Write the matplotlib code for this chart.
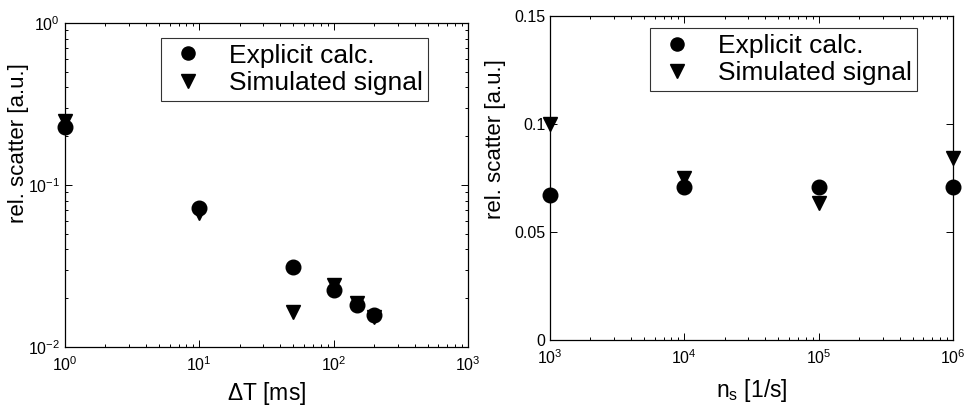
import numpy as np
import matplotlib
matplotlib.use("Agg")
import matplotlib.pyplot as plt
from matplotlib.ticker import FixedLocator, FixedFormatter, LogLocator

# left panel: scatter vs. time window
dt_ms = [1, 10, 50, 100, 150, 200]
dt_explicit = [0.228, 0.072, 0.0312, 0.0225, 0.0182, 0.0158]
dt_simulated = [0.25, 0.067, 0.0164, 0.0241, 0.0187, 0.0153]

# right panel: scatter vs. sampling rate
ns = [1e3, 1e4, 1e5, 1e6]
ns_explicit = [0.0671, 0.0707, 0.0710, 0.0710]
ns_simulated = [0.1000, 0.0748, 0.0633, 0.0841]

right_yticks = [0, 0.05, 0.1, 0.15]
right_yticklabels = ['0', '0.05', '0.1', '0.15']

plt.rcParams['font.family'] = ['Liberation Sans', 'DejaVu Sans']
plt.rcParams['mathtext.fontset'] = 'custom'
plt.rcParams['mathtext.rm'] = 'Liberation Sans'
plt.rcParams['mathtext.it'] = 'Liberation Sans'
plt.rcParams['axes.linewidth'] = 0.9

W, H = 967, 409
fig = plt.figure(figsize=(W / 100, H / 100), dpi=100)
ax1 = fig.add_axes([65 / W, (H - 347) / H, 403 / W, 324 / H])
ax2 = fig.add_axes([550 / W, (H - 340) / H, 403 / W, 324 / H])


def style(ax):
    ax.tick_params(which='both', direction='in', top=True, right=True,
                   labelsize=11.5, width=0.7)
    ax.tick_params(which='major', length=5)
    ax.tick_params(which='minor', length=2.5)
    ax.tick_params(axis='x', pad=6)


def add_legend(ax, x, y):
    leg = ax.legend(loc='upper left', bbox_to_anchor=(x, y), borderaxespad=0,
                    fontsize=19, frameon=True, fancybox=False, edgecolor='k',
                    handletextpad=0.75, borderpad=0.22, labelspacing=0.14,
                    handlelength=1.6, markerscale=0.9)
    leg.get_frame().set_linewidth(0.8)


ms = 10.5
ax1.plot(dt_ms, dt_explicit, 'o', color='k', ms=ms, clip_on=False, label='Explicit calc.')
ax1.plot(dt_ms, dt_simulated, 'v', color='k', ms=ms, clip_on=False, label='Simulated signal')
ax1.set_xscale('log')
ax1.set_yscale('log')
ax1.set_xlim(1, 1000)
ax1.set_ylim(1e-2, 1)
ax1.xaxis.set_minor_locator(LogLocator(subs=np.arange(2, 10)))
ax1.yaxis.set_minor_locator(LogLocator(subs=np.arange(2, 10)))
ax1.set_xlabel(r'$\Delta$T [ms]', fontsize=16.5, labelpad=4)
ax1.set_ylabel('rel. scatter [a.u.]', fontsize=16)
ax1.yaxis.set_label_coords(-0.09, 0.63)
style(ax1)
add_legend(ax1, 0.238, 0.954)

ax2.plot(ns, ns_explicit, 'o', color='k', ms=ms, clip_on=False, label='Explicit calc.')
ax2.plot(ns, ns_simulated, 'v', color='k', ms=ms, clip_on=False, label='Simulated signal')
ax2.set_xscale('log')
ax2.set_xlim(1e3, 1e6)
ax2.set_ylim(0, 0.15)
ax2.xaxis.set_minor_locator(LogLocator(subs=np.arange(2, 10)))
ax2.yaxis.set_major_locator(FixedLocator(right_yticks))
ax2.yaxis.set_major_formatter(FixedFormatter(right_yticklabels))
ax2.set_xlabel(r'n$_\mathregular{s}$ [1/s]', fontsize=16.5, labelpad=7)
ax2.set_ylabel('rel. scatter [a.u.]', fontsize=16)
ax2.yaxis.set_label_coords(-0.11, 0.62)
style(ax2)
add_legend(ax2, 0.248, 0.963)

fig.savefig('out.png', dpi=100)
